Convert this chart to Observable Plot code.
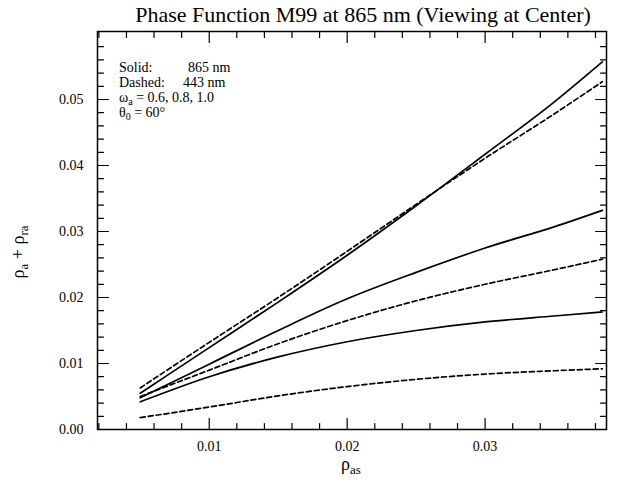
<!DOCTYPE html>
<html><head><meta charset="utf-8">
<script src="https://cdn.jsdelivr.net/npm/d3@7"></script>
<script src="https://cdn.jsdelivr.net/npm/@observablehq/plot@0.6"></script>
<style>body{margin:0;background:#fff} svg{font-family:"Liberation Serif","Times New Roman",serif}</style>
</head><body><div id="chart"></div>
<script>
// x values: rho_as
const rhoAs = [0.005, 0.01, 0.015, 0.02, 0.025, 0.03, 0.035, 0.0385];
// Solid: 865 nm, omega_a = 1.0, 0.8, 0.6
const solid10 = [0.0055, 0.0124, 0.0193, 0.0264, 0.0339, 0.0417, 0.0496, 0.0557];
const solid08 = [0.0048, 0.0099, 0.0150, 0.0198, 0.0238, 0.0275, 0.0307, 0.0332];
const solid06 = [0.0042, 0.0080, 0.0110, 0.0133, 0.0150, 0.0163, 0.0172, 0.0178];
// Dashed: 443 nm, omega_a = 1.0, 0.8, 0.6
const dashed10 = [0.0063, 0.0132, 0.0200, 0.0270, 0.0341, 0.0411, 0.0478, 0.0527];
const dashed08 = [0.0050, 0.0090, 0.0130, 0.0165, 0.0195, 0.0220, 0.0242, 0.0258];
const dashed06 = [0.0018, 0.0034, 0.0051, 0.0065, 0.0076, 0.0084, 0.0089, 0.0092];
// ticks
const xMajor = [0.01, 0.02, 0.03];
const xMinor = [0.002,0.004,0.006,0.008,0.012,0.014,0.016,0.018,0.022,0.024,0.026,0.028,0.032,0.034,0.036,0.038];
const yMajor = [0, 0.01, 0.02, 0.03, 0.04, 0.05];
const yMinor = [0.002,0.004,0.006,0.008,0.012,0.014,0.016,0.018,0.022,0.024,0.026,0.028,0.032,0.034,0.036,0.038,0.042,0.044,0.046,0.048,0.052,0.054,0.056,0.058];

const toRows = (vals, key) => rhoAs.map((x, i) => ({x, y: vals[i], key}));
const solidRows = [...toRows(solid10,"s10"), ...toRows(solid08,"s08"), ...toRows(solid06,"s06")];
const dashedRows = [...toRows(dashed10,"d10"), ...toRows(dashed08,"d08"), ...toRows(dashed06,"d06")];

// inward tick shapes for vector marks
const up = {draw(c, l) { c.moveTo(0, 0); c.lineTo(0, -l); }};
const down = {draw(c, l) { c.moveTo(0, 0); c.lineTo(0, l); }};
const right = {draw(c, l) { c.moveTo(0, 0); c.lineTo(l, 0); }};
const left = {draw(c, l) { c.moveTo(0, 0); c.lineTo(-l, 0); }};
const tx = (ticks, anchor, len, shape) => Plot.vector(ticks, {x: d => d, frameAnchor: anchor, length: len, anchor: "start", shape, stroke: "#000", strokeWidth: 1.2});
const ty = (ticks, anchor, len, shape) => Plot.vector(ticks, {y: d => d, frameAnchor: anchor, length: len, anchor: "start", shape, stroke: "#000", strokeWidth: 1.2});

const plot = Plot.plot({
  width: 621, height: 480,
  marginTop: 31, marginLeft: 97, marginRight: 15, marginBottom: 51,
  x: {domain: [0.0019, 0.0388]},
  y: {domain: [0, 0.0603]},
  style: {fontFamily: "Liberation Serif, serif", fontSize: "13px", color: "#000", background: "#fff"},
  marks: [
    tx(xMinor, "bottom", 6, up), tx(xMajor, "bottom", 11, up),
    tx(xMinor, "top", 6, down), tx(xMajor, "top", 11, down),
    ty(yMinor, "left", 6, right), ty(yMajor, "left", 11, right),
    ty(yMinor, "right", 6, left), ty(yMajor, "right", 11, left),
    Plot.axisX({anchor: "bottom", ticks: xMajor, tickSize: 0, tickPadding: 12, tickFormat: d3.format(".2f"), label: null, fontSize: 14}),
    Plot.axisY({anchor: "left", ticks: yMajor, tickSize: 0, tickPadding: 14, tickFormat: d3.format(".2f"), label: null, fontSize: 14}),
    Plot.frame({stroke: "#000", strokeWidth: 1.5}),
    Plot.line(solidRows, {x: "x", y: "y", z: "key", stroke: "#000", strokeWidth: 1.7, curve: "monotone-x"}),
    Plot.line(dashedRows, {x: "x", y: "y", z: "key", stroke: "#000", strokeWidth: 1.7, strokeDasharray: "5,3", curve: "monotone-x"})
  ]
});
document.getElementById("chart").appendChild(plot);

const svg = d3.select(plot);
const serif = "Liberation Serif, serif";
svg.append("text").attr("x", 363).attr("y", 22).attr("text-anchor", "middle")
  .attr("font-family", serif).attr("font-size", 22).attr("fill", "#000")
  .text("Phase Function M99 at 865 nm (Viewing at Center)");

// y axis title
const yt = svg.append("text").attr("transform", "translate(24,252) rotate(-90)")
  .attr("text-anchor", "middle").attr("font-family", serif).attr("font-size", 18).attr("fill", "#000");
yt.append("tspan").text("ρ");
yt.append("tspan").attr("dy", 4).attr("font-size", 13).text("a");
yt.append("tspan").attr("dy", -4).text(" + ρ");
yt.append("tspan").attr("dy", 4).attr("font-size", 13).text("ra");

// x axis title
const xt = svg.append("text").attr("x", 351).attr("y", 470).attr("text-anchor", "middle")
  .attr("font-family", serif).attr("font-size", 18).attr("fill", "#000");
xt.append("tspan").text("ρ");
xt.append("tspan").attr("dy", 4).attr("font-size", 13).text("as");

// legend annotation
const lg = svg.append("g").attr("font-family", serif).attr("font-size", 14).attr("fill", "#000").attr("text-anchor", "start");
lg.append("text").attr("x", 119).attr("y", 72).text("Solid:");
lg.append("text").attr("x", 188).attr("y", 72).text("865 nm");
lg.append("text").attr("x", 119).attr("y", 87).text("Dashed:");
lg.append("text").attr("x", 183).attr("y", 87).text("443 nm");
const w = lg.append("text").attr("x", 119).attr("y", 102);
w.append("tspan").text("ω");
w.append("tspan").attr("dy", 2.5).attr("font-size", 10).text("a");
w.append("tspan").attr("dy", -2.5).text(" = 0.6, 0.8, 1.0");
const t = lg.append("text").attr("x", 119).attr("y", 117);
t.append("tspan").text("θ");
t.append("tspan").attr("dy", 2.5).attr("font-size", 10).text("0");
t.append("tspan").attr("dy", -2.5).text(" = 60°");
</script>
</body></html>
